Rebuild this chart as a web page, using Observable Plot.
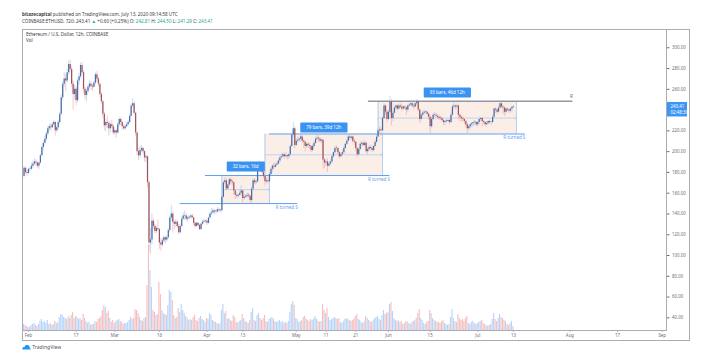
<!DOCTYPE html>
<html><head><meta charset="utf-8">
<script src="https://cdn.jsdelivr.net/npm/d3@7"></script>
<script src="https://cdn.jsdelivr.net/npm/@observablehq/plot@0.6"></script>
<style>
body{margin:0;background:#fff;font-family:"Noto Sans",Roboto,sans-serif;}
#wrap{position:relative;width:708px;height:361px;overflow:hidden;background:#fff;}
#wrap svg.layer{position:absolute;left:0;top:0;}
.t{position:absolute;white-space:nowrap;font-size:4.6px;line-height:5px;color:#3a3d45;}
.g{color:#26a69a;}
#box{position:absolute;left:22px;top:29px;width:666px;height:310px;border:1px solid #a9acb4;}
</style></head><body><div id="wrap">
<div class="t" style="left:22px;top:12px"><b>bitazecapital</b> published on TradingView.com, July 13, 2020 09:14:58 UTC</div>
<div class="t" style="left:22px;top:18.5px">COINBASE:ETHUSD, 720: 243.41 <span class="g">▲</span> +0.60 (+0.25%) O: <span class="g">242.81</span> H: <span class="g">244.50</span> L: <span class="g">241.29</span> C: <span class="g">243.41</span></div>
<div id="box"></div>
<div class="t" style="left:26px;top:31.5px">Ethereum / U.S. Dollar, 12h, COINBASE</div>
<div class="t" style="left:26px;top:37.5px">Vol</div>
<div class="t" style="left:22px;top:344px;font-size:5px;color:#50535e"><svg width="9" height="6" style="vertical-align:-1px"><path d="M1 5.5 Q0 5.5 0.5 4 Q1 2.5 2.5 3 Q3 0.5 5.5 1 Q8 1.5 7.5 3.5 Q9 4 8.5 5.5 Z" fill="#2196f3"/></svg> TradingView</div>
</div>
<script>
// 12h bars from 2020-01-30 12:00 UTC to 2020-07-13 00:00 UTC
const firstOpen = 176;
const close = [
184, 180,179,
183,183,186,188,190,189,186,189,196,204,208,212,217,222,224,223,226,228,220,223,228,236,252,265,270,268,276,284,279,265,255,260,249,268,272,283,276,260,254,258,262,265,263,262,266,274,270,265,255,248,236,225,228,227,222,226,224,218,
220,218,226,231,228,224,222,224,226,228,234,244,246,237,218,200,196,201,203,200,194,195,170,112,115,133,128,123,126,125,112,110,114,117,115,117,124,136,140,132,130,132,128,122,128,135,138,138,135,136,137,138,136,131,128,131,129,125,130,132,133,133,
131,136,140,141,143,142,142,144,143,143,156,170,172,164,168,173,171,170,162,158,157,158,160,162,155,156,157,158,157,153,164,172,170,171,181,187,182,180,176,171,172,171,178,183,186,185,187,188,191,194,195,197,195,196,195,197,205,216,222,206,
210,211,212,214,210,209,205,207,206,205,201,205,208,212,213,212,210,211,192,189,190,186,188,190,195,199,203,203,199,195,197,199,203,207,210,214,213,214,210,209,203,197,202,207,208,206,208,200,202,204,203,201,205,209,214,220,221,220,232,244,238,231,
238,248,232,237,242,244,241,244,243,241,243,242,240,244,245,246,244,243,246,248,240,231,235,237,238,238,236,233,224,231,235,235,234,233,232,232,230,228,229,229,230,228,235,243,244,243,244,235,233,232,231,229,226,222,224,226,227,228,228,226,
228,231,232,229,228,226,227,229,228,228,233,241,240,238,242,246,243,242,238,241,240,239,241,242.81,243.41];
const high = [
186, 185,182,
184,185,189,191,193,192,190,190,198,206,210,215,219,224,226,227,228,230,229,225,230,238,255,267,276,274,279,287,288,282,268,264,262,270,275,285,286,278,262,260,264,268,267,265,268,276,277,272,266,257,249,238,231,234,229,228,230,226,
223,221,228,233,233,229,226,226,228,230,236,246,251,248,238,219,203,205,206,204,201,197,196,172,126,140,135,130,128,134,126,116,117,119,118,119,126,138,148,142,134,134,134,130,130,137,141,143,140,138,138,139,140,137,132,132,132,130,131,134,135,134,
134,137,142,145,145,144,144,146,145,145,158,172,175,174,170,175,174,173,171,163,160,159,163,167,163,158,159,160,160,158,166,174,174,173,183,191,188,184,182,177,175,174,180,185,188,189,189,190,193,196,198,199,198,199,197,198,207,218,228,224,
212,214,214,216,216,212,210,208,209,208,206,207,210,214,216,215,213,212,212,193,192,193,190,192,197,200,205,206,204,200,199,201,205,208,212,216,216,215,215,212,210,204,204,209,210,209,211,209,204,206,206,205,206,211,216,222,224,223,234,246,245,240,
240,253,250,239,244,245,245,246,246,245,244,244,243,245,247,247,247,246,248,250,249,241,237,239,240,239,239,237,234,233,237,238,237,236,235,234,233,231,230,231,231,231,237,245,247,245,246,245,236,234,234,232,230,227,226,227,228,229,230,229,
229,233,233,233,230,229,229,230,230,229,235,242,242,241,244,248,247,244,243,242,242,241,242,243,244.5];
const low = [
175, 178,176,
178,181,182,184,187,186,184,183,188,195,201,206,210,215,219,220,222,224,215,218,221,226,235,249,262,258,266,274,276,262,240,250,244,247,264,270,274,256,250,248,256,260,259,258,261,264,267,262,252,245,232,220,219,222,215,218,222,216,
216,213,217,224,225,221,220,221,223,225,227,233,242,235,215,196,191,194,199,197,190,189,165,104,101,110,125,121,121,123,106,104,108,112,111,113,116,122,133,122,125,127,126,120,121,127,134,134,133,132,134,135,135,129,126,127,128,124,124,129,131,131,
129,130,135,138,140,139,140,141,141,141,142,155,168,162,163,167,168,167,158,154,155,155,157,158,150,153,155,155,155,151,150,162,168,168,170,180,180,177,174,167,169,169,170,177,180,182,184,186,187,189,193,194,193,194,192,193,196,204,214,203,
205,208,209,210,208,203,200,203,203,202,199,200,204,207,211,209,208,208,183,184,186,180,185,187,189,194,198,200,197,193,194,196,198,202,206,209,211,211,208,206,200,194,196,201,205,204,205,198,197,200,201,199,200,204,208,213,217,215,219,231,235,228,
230,236,225,229,236,240,239,240,241,239,240,240,235,238,243,243,242,240,242,244,238,227,229,233,235,236,234,230,217,222,230,233,232,231,230,230,228,225,225,227,228,226,227,234,241,240,241,231,229,228,229,226,223,217,220,222,223,224,225,224,
224,226,229,224,226,224,225,226,226,225,227,232,237,236,237,241,241,236,234,236,238,237,237,238,241.29];
const volume = [
60, 50,40,
30,30,50,60,70,50,40,60,90,110,80,90,70,100,60,70,50,60,90,70,80,130,160,150,130,120,110,140,120,150,180,120,140,130,110,120,100,160,120,90,70,80,50,60,60,90,80,110,120,140,200,250,230,170,190,120,80,100,
70,90,100,110,90,80,60,70,70,80,100,130,110,120,210,200,170,130,100,90,120,130,450,850,600,430,200,180,150,160,480,360,200,170,160,150,250,400,380,300,150,120,130,220,180,260,200,170,140,120,100,110,100,130,150,100,90,120,140,110,100,80,
120,110,170,150,100,90,80,70,60,70,200,260,170,190,110,120,100,90,150,130,80,70,90,100,160,120,90,80,70,100,180,220,100,90,150,170,120,100,120,150,90,80,110,120,130,110,90,80,90,100,80,90,70,80,70,90,180,260,290,250,
120,110,80,90,100,130,140,110,100,90,110,100,120,140,110,90,80,90,260,200,170,220,130,100,110,120,130,120,110,120,80,70,90,110,120,110,100,90,100,110,140,160,110,100,80,70,90,140,120,100,90,80,100,120,130,140,110,100,150,200,160,170,
180,260,280,190,120,100,90,100,80,90,60,70,90,80,70,60,80,90,100,120,170,210,120,100,70,60,80,90,200,170,120,100,90,80,80,70,90,100,70,60,50,60,130,210,120,90,80,160,120,100,110,90,120,140,70,60,80,90,70,60,
70,80,90,100,70,60,50,40,50,60,110,170,110,90,120,160,130,120,100,90,60,50,70,90,40];

// 240.00 is hidden behind the last-price tag in the reference
const priceTicks = [40,60,80,100,120,140,160,180,200,220,260,280,300];
const timeTicks = ["2020-02-01","2020-02-17","2020-03-01","2020-03-16","2020-04-01","2020-04-13","2020-05-01","2020-05-11","2020-05-21","2020-06-01","2020-06-15","2020-07-01","2020-07-13","2020-08-01","2020-08-17","2020-09-01"];
const timeLabels = ["Feb","17","Mar","16","Apr","13","May","11","21","Jun","15","Jul","13","Aug","17","Sep"];

const levels = [
  {from:"2020-03-23T00:00Z", to:"2020-05-01T12:00Z", price:150, label:"R turned S"},
  {from:"2020-03-31T12:00Z", to:"2020-06-01T12:00Z", price:177, label:"R turned S"},
  {from:"2020-04-22T00:00Z", to:"2020-07-17T00:00Z", price:217, label:"R turned S"}
];
const resistance = [{from:"2020-05-25T06:00Z", to:"2020-08-02T00:00Z", price:248.6, label:"R"}];
const ranges = [
  {start:"2020-04-06T00:00Z", end:"2020-04-22T00:00Z", lo:150, hi:177, label:"32 bars, 16d", labelPrice:185.2},
  {start:"2020-04-20T12:00Z", end:"2020-05-30T00:00Z", lo:177, hi:217, label:"79 bars, 39d 12h", labelPrice:222.8},
  {start:"2020-05-28T12:00Z", end:"2020-07-14T00:00Z", lo:217, hi:247.6, label:"93 bars, 46d 12h", labelPrice:256.5}
];
const lastTag = {price:243.41, label:"243.41", countdown:"02:48:30"};

const start = Date.UTC(2020,0,30,12);
const bars = close.map((c,i)=>({t:new Date(start+i*43200000), o: i ? close[i-1] : firstOpen, c, h:high[i], l:low[i], v:volume[i]}));
bars.forEach(b=>b.up = b.c >= b.o);
const toD = s => new Date(s);
const lv = levels.map(d=>({...d, from:toD(d.from), to:toD(d.to)}));
const rs = resistance.map(d=>({...d, from:toD(d.from), to:toD(d.to)}));
const rg = ranges.map(d=>({...d, start:toD(d.start), end:toD(d.end), mid:(d.lo+d.hi)/2, center:new Date((toD(d.start).getTime()+toD(d.end).getTime())/2)}));
const labelOf = new Map(timeTicks.map((s,i)=>[s, timeLabels[i]]));

const W=708, H=361;
const xScale = {type:"utc", domain:[new Date(Date.UTC(2020,0,29,23,35)), new Date(Date.UTC(2020,8,2,10,48))], range:[22,666]};
const common = {width:W, height:H, marginLeft:22, marginRight:42, marginTop:29, marginBottom:31};
const blue = "#5e9ff2", dark = "#5b6679";

const volPlot = Plot.plot({
  ...common,
  style:{background:"transparent"},
  x:{...xScale, axis:null},
  y:{domain:[0,3010], range:[330,29], axis:null},
  marks:[
    Plot.rectY(bars.filter(d=>d.up), {x1:d=>new Date(d.t.getTime()-16200000), x2:d=>new Date(d.t.getTime()+16200000), y:"v", fill:"#a9cdf7", fillOpacity:0.85}),
    Plot.rectY(bars.filter(d=>!d.up), {x1:d=>new Date(d.t.getTime()-16200000), x2:d=>new Date(d.t.getTime()+16200000), y:"v", fill:"#f6b3b3", fillOpacity:0.85})
  ]
});

const up = bars.filter(d=>d.up), dn = bars.filter(d=>!d.up);
const bodyEnd = d => Math.abs(d.c-d.o)<0.6 ? d.o+(d.up?0.6:-0.6) : d.c;

const pricePlot = Plot.plot({
  ...common,
  style:{background:"transparent", fontFamily:"'Noto Sans', Roboto, sans-serif"},
  x:{...xScale},
  y:{domain:[27.8,317.6], range:[330,29]},
  marks:[
    Plot.axisY({anchor:"right", ticks:priceTicks, tickFormat:d=>d.toFixed(2), tickSize:2.5, tickPadding:3, fontSize:4.4, color:"#6a6d78", label:null}),
    Plot.axisX({anchor:"bottom", ticks:timeTicks.map(s=>new Date(s+"T00:00Z")), tickFormat:d=>labelOf.get(d.toISOString().slice(0,10)), tickSize:1.5, tickPadding:2, fontSize:4.4, color:"#6a6d78", label:null}),
    Plot.rect(rg, {x1:"start", x2:"end", y1:"lo", y2:"hi", fill:"#f8e2d6", fillOpacity:0.6}),
    Plot.ruleX(rg, {x:"start", y1:"lo", y2:"hi", stroke:"#9cc2f3", strokeWidth:0.8}),
    Plot.ruleX(rg, {x:"end", y1:"lo", y2:"hi", stroke:"#9cc2f3", strokeWidth:0.8}),
    Plot.arrow(rg, {x1:"start", x2:"end", y1:"mid", y2:"mid", stroke:"#a9c9f3", strokeWidth:0.7, headLength:3, bend:0}),
    Plot.ruleY(lv, {y:"price", x1:"from", x2:"to", stroke:blue, strokeWidth:1}),
    Plot.text(lv, {x:"to", y:"price", text:"label", textAnchor:"end", dy:3.8, fontSize:4.5, fill:blue}),
    Plot.ruleY(rs, {y:"price", x1:"from", x2:"to", stroke:dark, strokeWidth:1}),
    Plot.text(rs, {x:"to", y:"price", text:"label", textAnchor:"end", dy:-4.5, fontSize:4.5, fill:dark}),
    Plot.ruleX(up, {x:"t", y1:"l", y2:"h", stroke:"#9ec3f2", strokeWidth:0.6}),
    Plot.ruleX(dn, {x:"t", y1:"l", y2:"h", stroke:"#f1a3a6", strokeWidth:0.6}),
    Plot.ruleX(up, {x:"t", y1:"o", y2:bodyEnd, stroke:"#4a6ea6", strokeWidth:1.25}),
    Plot.ruleX(dn, {x:"t", y1:"o", y2:bodyEnd, stroke:"#9a5561", strokeWidth:1.25}),
    Plot.text(rg, {x:"center", y:"labelPrice", text:"label", fill:"white", fontSize:4.5, className:"rlab"}),
    Plot.text([lastTag], {y:"price", text:"label", frameAnchor:"right", textAnchor:"start", dx:4, fill:"white", fontSize:4.4, className:"ptag"}),
    Plot.text([lastTag], {y:"price", text:"countdown", frameAnchor:"right", textAnchor:"start", dx:4, dy:6.5, fill:"white", fontSize:4.4, className:"ptag2"}),
    Plot.frame({stroke:"#a9acb4", strokeWidth:1})
  ]
});

const wrap = document.getElementById("wrap");
volPlot.classList.add("layer");
pricePlot.classList.add("layer");
wrap.insertBefore(volPlot, document.getElementById("box"));
wrap.appendChild(pricePlot);

function boxes(cls, fill, padX, padY, tagWidth){
  pricePlot.querySelectorAll(`g.${cls} text`).forEach(t=>{
    const b = t.getBBox();
    const r = document.createElementNS("http://www.w3.org/2000/svg","rect");
    if (tagWidth) { r.setAttribute("x", b.x-padX); r.setAttribute("width", tagWidth); }
    else { r.setAttribute("x", b.x-padX); r.setAttribute("width", b.width+2*padX); r.setAttribute("rx", 1); }
    r.setAttribute("y", b.y-padY); r.setAttribute("height", b.height+2*padY);
    r.setAttribute("fill", fill);
    if (t.getAttribute("transform")) r.setAttribute("transform", t.getAttribute("transform"));
    t.parentNode.insertBefore(r, t);
  });
}
boxes("rlab", "#3a93f1", 6, 2);
boxes("ptag", "#3d94f2", 3.5, 1, 20);
boxes("ptag2", "#3d94f2", 3.5, 1, 20);
</script></body></html>
